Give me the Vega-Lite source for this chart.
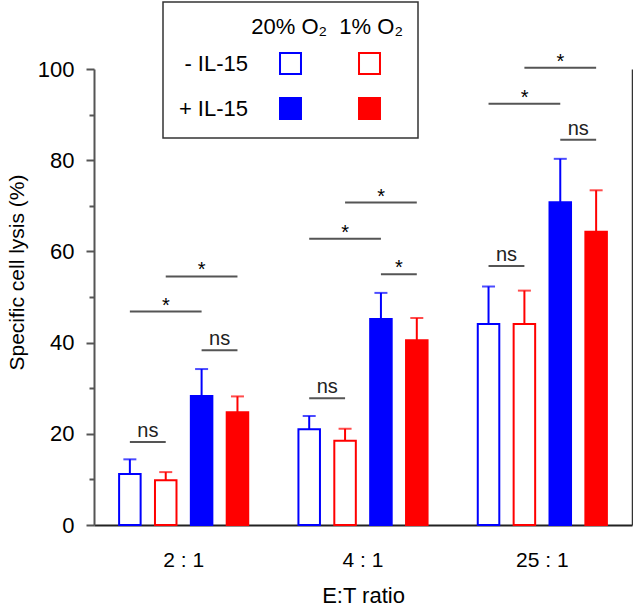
{
  "$schema": "https://vega.github.io/schema/vega-lite/v6.json",
  "width": 538,
  "height": 456,
  "autosize": {"type": "none"},
  "padding": {"left": 94, "top": 69, "right": 1, "bottom": 81},
  "background": "white",
  "config": {
    "font": "Liberation Sans",
    "view": {"stroke": null},
    "legend": {"strokeWidth": 1.5}
  },
  "datasets": {
    "bars": [
      {"ratio": "2 : 1", "cond": "20% O₂ - IL-15", "lysis": 11.2, "upper": 14.4},
      {"ratio": "2 : 1", "cond": "1% O₂ - IL-15", "lysis": 9.8, "upper": 11.6},
      {"ratio": "2 : 1", "cond": "20% O₂ + IL-15", "lysis": 28.3, "upper": 34.2},
      {"ratio": "2 : 1", "cond": "1% O₂ + IL-15", "lysis": 24.7, "upper": 28.2},
      {"ratio": "4 : 1", "cond": "20% O₂ - IL-15", "lysis": 21.0, "upper": 23.9},
      {"ratio": "4 : 1", "cond": "1% O₂ - IL-15", "lysis": 18.5, "upper": 21.1},
      {"ratio": "4 : 1", "cond": "20% O₂ + IL-15", "lysis": 45.2, "upper": 50.9},
      {"ratio": "4 : 1", "cond": "1% O₂ + IL-15", "lysis": 40.5, "upper": 45.4},
      {"ratio": "25 : 1", "cond": "20% O₂ - IL-15", "lysis": 44.1, "upper": 52.3},
      {"ratio": "25 : 1", "cond": "1% O₂ - IL-15", "lysis": 44.1, "upper": 51.4},
      {"ratio": "25 : 1", "cond": "20% O₂ + IL-15", "lysis": 70.8, "upper": 80.3},
      {"ratio": "25 : 1", "cond": "1% O₂ + IL-15", "lysis": 64.3, "upper": 73.4}
    ],
    "sig": [
      {"ratio": "2 : 1", "id": "a1", "from": "20% O₂ - IL-15", "to": "1% O₂ - IL-15", "level": 18.2, "label": "ns", "span": "adjacent"},
      {"ratio": "2 : 1", "id": "a2", "from": "20% O₂ + IL-15", "to": "1% O₂ + IL-15", "level": 38.3, "label": "ns", "span": "adjacent"},
      {"ratio": "2 : 1", "id": "a3", "from": "20% O₂ - IL-15", "to": "20% O₂ + IL-15", "level": 46.8, "label": "*", "span": "skip"},
      {"ratio": "2 : 1", "id": "a4", "from": "1% O₂ - IL-15", "to": "1% O₂ + IL-15", "level": 54.5, "label": "*", "span": "skip"},
      {"ratio": "4 : 1", "id": "b1", "from": "20% O₂ - IL-15", "to": "1% O₂ - IL-15", "level": 27.8, "label": "ns", "span": "adjacent"},
      {"ratio": "4 : 1", "id": "b2", "from": "20% O₂ + IL-15", "to": "1% O₂ + IL-15", "level": 55.0, "label": "*", "span": "adjacent"},
      {"ratio": "4 : 1", "id": "b3", "from": "20% O₂ - IL-15", "to": "20% O₂ + IL-15", "level": 62.8, "label": "*", "span": "skip"},
      {"ratio": "4 : 1", "id": "b4", "from": "1% O₂ - IL-15", "to": "1% O₂ + IL-15", "level": 70.7, "label": "*", "span": "skip"},
      {"ratio": "25 : 1", "id": "c1", "from": "20% O₂ - IL-15", "to": "1% O₂ - IL-15", "level": 56.8, "label": "ns", "span": "adjacent"},
      {"ratio": "25 : 1", "id": "c2", "from": "20% O₂ + IL-15", "to": "1% O₂ + IL-15", "level": 84.5, "label": "ns", "span": "adjacent"},
      {"ratio": "25 : 1", "id": "c3", "from": "20% O₂ - IL-15", "to": "20% O₂ + IL-15", "level": 92.4, "label": "*", "span": "skip"},
      {"ratio": "25 : 1", "id": "c4", "from": "1% O₂ - IL-15", "to": "1% O₂ + IL-15", "level": 100.3, "label": "*", "span": "skip"}
    ]
  },
  "resolve": {"axis": {"y": "independent"}},
  "layer": [
    {
      "data": {"name": "bars"},
      "mark": {"type": "bar", "strokeWidth": 2},
      "encoding": {
        "x": {
          "field": "ratio", "type": "nominal", "sort": ["2 : 1", "4 : 1", "25 : 1"],
          "scale": {"paddingInner": 0, "paddingOuter": 0},
          "axis": {
            "title": "E:T ratio", "labelAngle": 0, "ticks": false, "labelFontSize": 21, "labelColor": "black",
            "labelPadding": 24, "titleFontSize": 22, "titleFontWeight": "normal", "titleColor": "black",
            "titlePadding": 15, "domainColor": "#222", "domainWidth": 2
          }
        },
        "xOffset": {
          "field": "cond", "type": "nominal",
          "scale": {"domain": ["20% O₂ - IL-15", "1% O₂ - IL-15", "20% O₂ + IL-15", "1% O₂ + IL-15"], "paddingInner": 0.4, "paddingOuter": 0.7}
        },
        "y": {
          "field": "lysis", "type": "quantitative",
          "scale": {"domain": [0, 100], "nice": false},
          "axis": {
            "title": "Specific cell lysis (%)", "values": [0, 10, 20, 30, 40, 50, 60, 70, 80, 90, 100],
            "labelExpr": "datum.value % 20 == 0 ? datum.label : ''",
            "tickSize": {"condition": {"test": "datum.value % 20 == 0", "value": 8}, "value": 5},
            "tickWidth": 2, "tickColor": "#555", "domainColor": "#555", "domainWidth": 2,
            "labelFontSize": 22, "labelColor": "black", "labelPadding": 12,
            "titleFontSize": 21, "titleFontWeight": "normal", "titleColor": "black", "titlePadding": 10,
            "titleY": 203, "grid": false
          }
        },
        "fill": {
          "field": "cond", "type": "nominal",
          "scale": {"domain": ["20% O₂ - IL-15", "1% O₂ - IL-15", "20% O₂ + IL-15", "1% O₂ + IL-15"], "range": ["#ffffff", "#ffffff", "#0000ff", "#ff0000"]},
          "legend": {
            "orient": "none", "legendX": 69, "legendY": -67, "direction": "horizontal", "gridAlign": "none",
            "title": "\u200b\u00a0\u00a0\u00a0\u00a0\u00a0\u00a0\u00a0\u00a0\u00a0\u00a0\u00a0\u00a020% O₂\u00a0\u00a01% O₂", "titleLimit": 500,
            "columns": 2, "columnPadding": -48, "rowPadding": 16,
            "symbolType": "square", "symbolSize": 440, "symbolStrokeWidth": 2, "symbolOffset": 101,
            "labelExpr": "datum.label == '20% O₂ - IL-15' ? '- IL-15' : (datum.label == '20% O₂ + IL-15' ? '+ IL-15' : '')",
            "labelFontSize": 22, "labelColor": "black", "labelAlign": "right", "labelOffset": -54,
            "titleFontSize": 22, "titleFontWeight": "normal", "titleColor": "black", "titlePadding": 13,
            "strokeColor": "#333", "padding": 15
          }
        },
        "stroke": {
          "field": "cond", "type": "nominal",
          "scale": {"domain": ["20% O₂ - IL-15", "1% O₂ - IL-15", "20% O₂ + IL-15", "1% O₂ + IL-15"], "range": ["#0000ff", "#ff0000", "#0000ff", "#ff0000"]},
          "legend": {
            "orient": "none", "legendX": 69, "legendY": -67, "direction": "horizontal", "gridAlign": "none",
            "title": "\u200b\u00a0\u00a0\u00a0\u00a0\u00a0\u00a0\u00a0\u00a0\u00a0\u00a0\u00a0\u00a020% O₂\u00a0\u00a01% O₂", "titleLimit": 500,
            "columns": 2, "columnPadding": -48, "rowPadding": 16,
            "symbolType": "square", "symbolSize": 440, "symbolStrokeWidth": 2, "symbolOffset": 101,
            "labelExpr": "datum.label == '20% O₂ - IL-15' ? '- IL-15' : (datum.label == '20% O₂ + IL-15' ? '+ IL-15' : '')",
            "labelFontSize": 22, "labelColor": "black", "labelAlign": "right", "labelOffset": -54,
            "titleFontSize": 22, "titleFontWeight": "normal", "titleColor": "black", "titlePadding": 13,
            "strokeColor": "#333", "padding": 15
          }
        }
      }
    },
    {
      "data": {"name": "bars"},
      "mark": {"type": "rule", "strokeWidth": 2},
      "encoding": {
        "x": {"field": "ratio", "type": "nominal", "sort": ["2 : 1", "4 : 1", "25 : 1"]},
        "xOffset": {"field": "cond", "type": "nominal"},
        "y": {
          "field": "lysis", "type": "quantitative",
          "axis": {"orient": "right", "labels": false, "ticks": false, "title": null, "domainColor": "#333", "domainWidth": 1.5, "grid": false}
        },
        "y2": {"field": "upper"},
        "color": {
          "field": "cond", "type": "nominal",
          "scale": {"domain": ["20% O₂ - IL-15", "1% O₂ - IL-15", "20% O₂ + IL-15", "1% O₂ + IL-15"], "range": ["#0000ff", "#ff0000", "#0000ff", "#ff0000"]},
          "legend": null
        }
      }
    },
    {
      "data": {"name": "bars"},
      "mark": {"type": "tick", "thickness": 2, "size": 13},
      "encoding": {
        "x": {"field": "ratio", "type": "nominal", "sort": ["2 : 1", "4 : 1", "25 : 1"]},
        "xOffset": {"field": "cond", "type": "nominal"},
        "y": {"field": "upper", "type": "quantitative", "axis": null},
        "color": {"field": "cond", "type": "nominal", "legend": null}
      }
    },
    {
      "data": {"name": "sig"},
      "transform": [{"fold": ["from", "to"], "as": ["end", "cond"]}],
      "mark": {"type": "line", "strokeWidth": 2, "color": "#555"},
      "encoding": {
        "x": {"field": "ratio", "type": "nominal", "sort": ["2 : 1", "4 : 1", "25 : 1"]},
        "xOffset": {"field": "cond", "type": "nominal"},
        "y": {"field": "level", "type": "quantitative", "axis": null},
        "detail": {"field": "id"}
      }
    },
    {
      "data": {"name": "sig"},
      "transform": [{"filter": "datum.label == 'ns'"}],
      "mark": {"type": "text", "fontSize": 20, "dx": 18, "dy": -5, "baseline": "alphabetic", "color": "#222"},
      "encoding": {
        "x": {"field": "ratio", "type": "nominal", "sort": ["2 : 1", "4 : 1", "25 : 1"]},
        "xOffset": {"field": "from", "type": "nominal"},
        "y": {"field": "level", "type": "quantitative", "axis": null},
        "text": {"field": "label"}
      }
    },
    {
      "data": {"name": "sig"},
      "transform": [{"filter": "datum.label == '*' && datum.span == 'adjacent'"}],
      "mark": {"type": "text", "fontSize": 20, "dx": 18, "dy": 0, "baseline": "alphabetic", "color": "black"},
      "encoding": {
        "x": {"field": "ratio", "type": "nominal", "sort": ["2 : 1", "4 : 1", "25 : 1"]},
        "xOffset": {"field": "from", "type": "nominal"},
        "y": {"field": "level", "type": "quantitative", "axis": null},
        "text": {"field": "label"}
      }
    },
    {
      "data": {"name": "sig"},
      "transform": [{"filter": "datum.span == 'skip'"}],
      "mark": {"type": "text", "fontSize": 20, "dx": 36, "dy": 0, "baseline": "alphabetic", "color": "black"},
      "encoding": {
        "x": {"field": "ratio", "type": "nominal", "sort": ["2 : 1", "4 : 1", "25 : 1"]},
        "xOffset": {"field": "from", "type": "nominal"},
        "y": {"field": "level", "type": "quantitative", "axis": null},
        "text": {"field": "label"}
      }
    }
  ]
}
